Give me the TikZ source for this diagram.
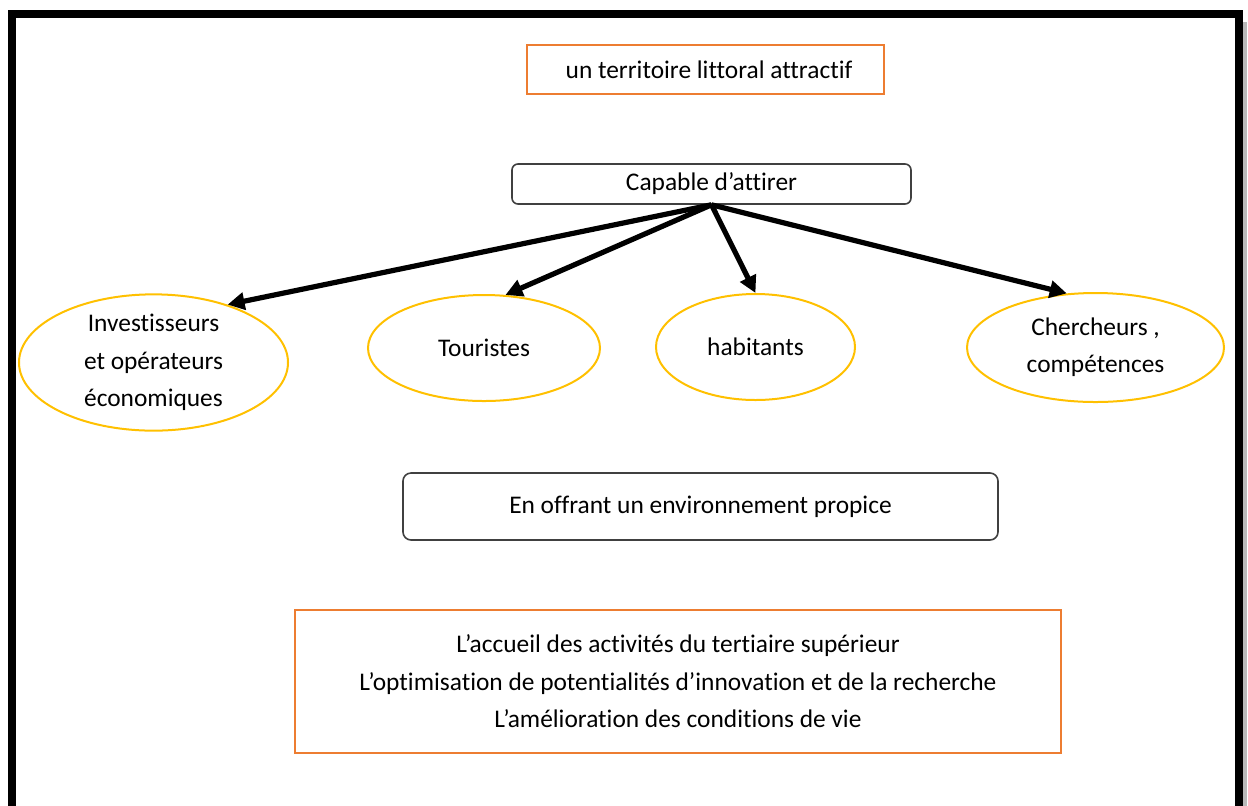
\documentclass[tikz,border=0pt]{standalone}
\usepackage{fontspec}
\setmainfont{Carlito}[Ligatures=NoCommon]
\usetikzlibrary{arrows.meta,shapes.geometric}
\definecolor{orangeline}{HTML}{ED7D31}
\definecolor{goldline}{HTML}{FFC000}
\definecolor{greyline}{HTML}{404040}

\begin{document}
\begin{tikzpicture}[x=0.5pt,y=-0.5pt,
  every node/.style={font=\fontsize{12.7}{18.7}\selectfont, align=center, inner sep=0pt},
  obox/.style={draw=orangeline, line width=0.9pt},
  rbox/.style={draw=greyline, line width=0.8pt, rounded corners=3pt},
  ell/.style={ellipse, draw=goldline, line width=1pt},
  arr/.style={-{Triangle[length=8.5pt,width=8.5pt]}, line width=2.6pt}]
            \useasboundingbox (0,0) rectangle (1248,805);
            % frame
            \draw[gray!55, line width=2pt] (1245,22) -- (1245,830);
            \draw[line width=4pt] (11.5,830) -- (11.5,14) -- (1239,14) -- (1239,830);

            \node[obox, minimum width=178.5pt, minimum height=24.5pt](top) at (705.5,69.5){\hspace*{3.5pt}un territoire littoral attractif};
            \node[rbox, minimum width=199.5pt, minimum height=20pt](cap) at (711.5,184){Capable d’attirer};

            \node[ell, minimum width=134.5pt, minimum height=64.5pt](a) at (153.5,362.5){Investisseurs\\et opérateurs\\économiques};
            \node[ell, minimum width=116pt, minimum height=53pt](b) at (484,348){Touristes};
            \node[ell, minimum width=99.5pt, minimum height=53pt](c) at (755.5,347){habitants};
            \node[ell, minimum width=128.5pt, minimum height=54.5pt](d) at (1095.5,347.5){Chercheurs ,\\compétences};

            \node[rbox, rounded corners=4pt, minimum width=297.5pt, minimum height=33.5pt](env) at (700.5,506.5){En offrant un environnement propice};
            \node[obox, minimum width=383pt, minimum height=71.5pt](acts) at (678,681.5){L’accueil des activités du tertiaire supérieur\\L’optimisation de potentialités d’innovation et de la recherche\\L’amélioration des conditions de vie};

            \draw[arr](cap.south) -- (a.38);
            \draw[arr](cap.south) -- (b.68);
            \draw[arr](cap.south) -- (c.north);
            \draw[arr](cap.south) -- (d.118);
        \end{tikzpicture}
\end{document}
